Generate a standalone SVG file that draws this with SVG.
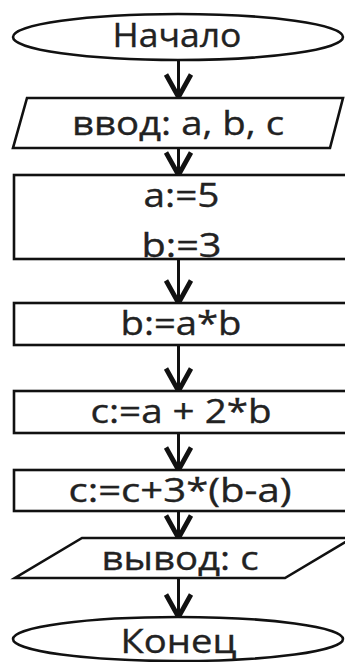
<svg xmlns="http://www.w3.org/2000/svg" width="345" height="662" viewBox="0 0 345 662">
<style>
.shape{fill:#fff;stroke:#111;stroke-width:2.6}
.lbl{font-family:"Open Sans","Liberation Sans",sans-serif;font-size:32px;fill:#222;stroke:#222;stroke-width:0.35;text-anchor:middle}
.con{stroke:#111;stroke-width:3;fill:none}
</style>
<defs>
<marker id="arr" markerUnits="userSpaceOnUse" markerWidth="30" markerHeight="30" viewBox="-2 -12 24 24" refX="19" refY="0" orient="auto" overflow="visible">
<path d="M1,-10 L19,0 L1,10" fill="none" stroke="#111" stroke-width="3.8" stroke-linejoin="miter"/>
</marker>
</defs>
<rect width="345" height="662" fill="#fff"/>
<g id="connectors">
<line class="con" x1="178.5" y1="60" x2="178.5" y2="97" marker-end="url(#arr)"/>
<line class="con" x1="178.5" y1="148" x2="178.5" y2="175" marker-end="url(#arr)"/>
<line class="con" x1="178.5" y1="259" x2="178.5" y2="303" marker-end="url(#arr)"/>
<line class="con" x1="178.5" y1="345" x2="178.5" y2="391" marker-end="url(#arr)"/>
<line class="con" x1="178.5" y1="433" x2="178.5" y2="470" marker-end="url(#arr)"/>
<line class="con" x1="178.5" y1="511" x2="178.5" y2="538" marker-end="url(#arr)"/>
<line class="con" x1="178.5" y1="578" x2="178.5" y2="617" marker-end="url(#arr)"/>
</g>
<g id="start">
<ellipse class="shape" cx="178" cy="37" rx="165" ry="23"/>
<text class="lbl" x="177" y="47" textLength="129" lengthAdjust="spacingAndGlyphs">Начало</text>
</g>
<g id="input">
<polygon class="shape" points="27,98 343,98 330,148 13,148"/>
<text class="lbl" x="178" y="135" textLength="212" lengthAdjust="spacingAndGlyphs">ввод: a, b, c</text>
</g>
<g id="assign1">
<rect class="shape" x="14" y="175" width="340" height="84"/>
<text class="lbl" x="181.5" y="207" textLength="76" lengthAdjust="spacingAndGlyphs">a:=5</text>
<text class="lbl" x="181.5" y="257" textLength="80" lengthAdjust="spacingAndGlyphs">b:=3</text>
</g>
<g id="assign2">
<rect class="shape" x="14" y="303" width="340" height="42"/>
<text class="lbl" x="181" y="335" textLength="121" lengthAdjust="spacingAndGlyphs">b:=a*b</text>
</g>
<g id="assign3">
<rect class="shape" x="14" y="391" width="340" height="42"/>
<text class="lbl" x="181" y="423" textLength="181" lengthAdjust="spacingAndGlyphs">c:=a + 2*b</text>
</g>
<g id="assign4">
<rect class="shape" x="14" y="470" width="340" height="41"/>
<text class="lbl" x="180" y="502" textLength="223" lengthAdjust="spacingAndGlyphs">c:=c+3*(b-a)</text>
</g>
<g id="output">
<polygon class="shape" points="82,538 352,538 285,578 15,578"/>
<text class="lbl" x="180" y="570" textLength="157" lengthAdjust="spacingAndGlyphs">вывод: c</text>
</g>
<g id="end">
<ellipse class="shape" cx="178" cy="639" rx="165" ry="22"/>
<text class="lbl" x="178.5" y="653" textLength="116" lengthAdjust="spacingAndGlyphs">Конец</text>
</g>
</svg>
